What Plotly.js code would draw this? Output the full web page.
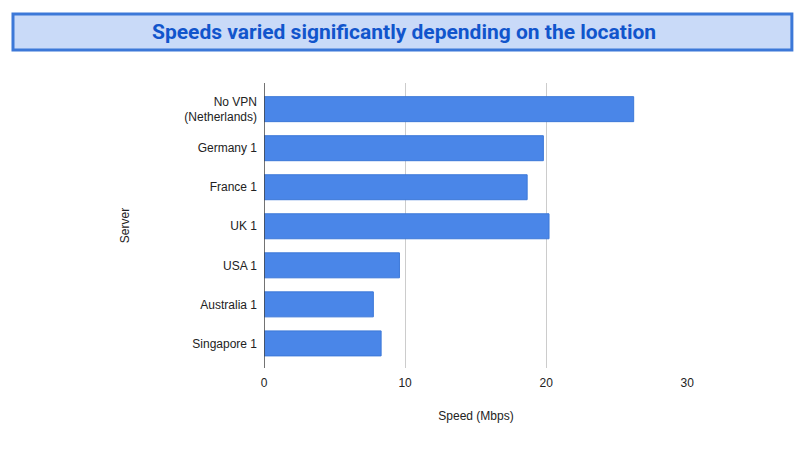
<!DOCTYPE html>
<html>
<head>
<meta charset="utf-8">
<script src="https://cdn.plot.ly/plotly-3.0.1.min.js"></script>
<style>
  html, body { margin: 0; padding: 0; background: #fff; }
  #chart { width: 806px; height: 453px; }
</style>
</head>
<body>
<div id="chart"></div>
<script>
// servers, top to bottom
const servers = [
  "No VPN<br>(Netherlands)",
  "Germany 1",
  "France 1",
  "UK 1",
  "USA 1",
  "Australia 1",
  "Singapore 1"
];
// download speed in Mbps
const speeds = [26.2, 19.8, 18.65, 20.2, 9.6, 7.75, 8.3];
const xTicks = [0, 10, 20, 30];

const chartTitle = "Speeds varied significantly depending on the location";

const trace = {
  type: "bar",
  orientation: "h",
  y: servers,
  x: speeds,
  marker: { color: "#4a86e8", line: { color: "#3c78d8", width: 1 } },
  width: 0.64,
  hoverinfo: "x+y"
};

const layout = {
  width: 806,
  height: 453,
  margin: { l: 264, r: 118, t: 83, b: 85 },
  paper_bgcolor: "#ffffff",
  plot_bgcolor: "#ffffff",
  font: { family: "Liberation Sans, Arial, sans-serif", size: 12, color: "#222222" },
  showlegend: false,
  xaxis: {
    range: [0, 30.05],
    tickvals: xTicks,
    ticktext: xTicks.map(String),
    showgrid: true,
    gridcolor: "#cccccc",
    gridwidth: 1,
    zeroline: false,
    showline: false,
    ticks: "",
    ticklabelstandoff: 6,
    automargin: false,
    title: { text: "Speed (Mbps)", standoff: 22, font: { size: 12, color: "#222222" } }
  },
  yaxis: {
    type: "category",
    range: [6.63, -0.67],
    showgrid: false,
    zeroline: false,
    showline: false,
    ticks: "",
    ticklabelstandoff: 6,
    automargin: false,
    title: { text: "Server", standoff: 52, font: { size: 12, color: "#222222" } }
  },
  shapes: [
    {
      type: "rect", xref: "paper", yref: "paper",
      x0: -0.592, x1: 1.245, y0: 1.116, y1: 1.242,
      fillcolor: "#c9daf8",
      line: { color: "#3c78d8", width: 3 },
      layer: "below"
    },
    {
      // vertical baseline at zero
      type: "line", xref: "x", yref: "paper",
      x0: 0, x1: 0, y0: 0, y1: 1,
      line: { color: "#444444", width: 1.5 }
    }
  ],
  annotations: [
    {
      text: "<b>" + chartTitle + "</b>",
      xref: "paper", yref: "paper",
      x: (404 - 264) / 424, y: 1.179,
      xanchor: "center", yanchor: "middle",
      showarrow: false,
      font: { family: "Roboto, sans-serif", size: 21, color: "#1155cc" }
    }
  ]
};

Plotly.newPlot("chart", [trace], layout, { displayModeBar: false, staticPlot: true });
</script>
</body>
</html>
